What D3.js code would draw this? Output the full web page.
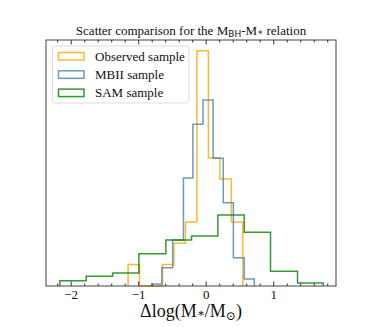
<!DOCTYPE html>
<html>
<head>
<meta charset="utf-8">
<script src="https://cdn.jsdelivr.net/npm/d3@7"></script>
<style>
  body { margin: 0; background: #fff; }
  text { font-family: "Liberation Serif", "DejaVu Serif", serif; fill: #111; }
</style>
</head>
<body>
<script>
// density histograms (bin edges + heights)
var obsEdges = [-1.15, -0.98, -0.81, -0.64, -0.47, -0.30, -0.13, 0.04, 0.21, 0.38, 0.55];
var obsVals  = [0.184, 0, 0, 0.184, 0.368, 0.551, 2.022, 1.103, 0.919, 0.551];

var mbiiEdges = [-0.80, -0.65, -0.49, -0.33, -0.19, -0.04, 0.11, 0.26, 0.41, 0.57, 0.72];
var mbiiVals  = [0.017, 0.157, 0.396, 0.929, 1.390, 1.599, 1.098, 0.716, 0.243, 0.060];

var samEdges = [-2.16, -1.77, -1.38, -0.99, -0.59, -0.21, 0.18, 0.57, 0.96, 1.36, 1.74];
var samVals  = [0.046, 0.083, 0.112, 0.278, 0.396, 0.430, 0.610, 0.462, 0.126, 0.026];

var seriesNames = ["Observed sample", "MBII sample", "SAM sample"];
var seriesColors = ["#ffa500", "#4682b4", "#008000"];

var majorTicks = [-2, -1, 0, 1];
var minorTicks = [-2.2, -1.8, -1.6, -1.4, -1.2, -0.8, -0.6, -0.4, -0.2, 0.2, 0.4, 0.6, 0.8, 1.2, 1.4, 1.6, 1.8];

var width = 374, height = 327;
var margin = {left: 46, right: 38, top: 40, bottom: 41};

var svg = d3.select("body").append("svg")
    .attr("width", width)
    .attr("height", height);

var x = d3.scaleLinear().domain([-2.366, 1.93]).range([margin.left, width - margin.right]);
var y = d3.scaleLinear().domain([0, 2.115]).range([height - margin.bottom, margin.top]);

// step outline like matplotlib histtype='step'
function stepPts(edges, vals) {
    var pts = [[edges[0], 0]];
    vals.forEach(function (v, i) {
        pts.push([edges[i], v]);
        pts.push([edges[i + 1], v]);
    });
    pts.push([edges[edges.length - 1], 0]);
    return pts;
}

var line = d3.line()
    .x(function (d) { return x(d[0]); })
    .y(function (d) { return y(d[1]); });

var hists = [[obsEdges, obsVals], [mbiiEdges, mbiiVals], [samEdges, samVals]];

svg.append("g").selectAll("path")
    .data(hists)
    .enter().append("path")
    .attr("d", function (d) { return line(stepPts(d[0], d[1])); })
    .attr("fill", "none")
    .attr("stroke", function (d, i) { return seriesColors[i]; })
    .attr("stroke-opacity", 0.8)
    .attr("stroke-width", 1.5);

// frame
svg.append("rect")
    .attr("x", x.range()[0])
    .attr("y", y.range()[1])
    .attr("width", x.range()[1] - x.range()[0])
    .attr("height", y.range()[0] - y.range()[1])
    .attr("fill", "none")
    .attr("stroke", "#444")
    .attr("stroke-width", 1);

// ticks inward, top and bottom
var bottomAxis = d3.axisBottom(x).tickValues(majorTicks).tickSizeInner(-4.5).tickSizeOuter(0)
    .tickFormat(function (d) { return d < 0 ? "\u2212" + Math.abs(d) : d; });
var gb = svg.append("g").attr("transform", "translate(0," + y.range()[0] + ")").call(bottomAxis);
gb.select(".domain").remove();
gb.selectAll("text").attr("dy", null).attr("y", 13).attr("font-size", 13)
    .attr("font-family", "Liberation Serif").attr("fill", "#111");
gb.selectAll("line").attr("stroke", "#333");

var gbm = svg.append("g").attr("transform", "translate(0," + y.range()[0] + ")")
    .call(d3.axisBottom(x).tickValues(minorTicks).tickSizeInner(-2.5).tickSizeOuter(0).tickFormat(""));
gbm.select(".domain").remove();
gbm.selectAll("line").attr("stroke", "#333");

var gt = svg.append("g").attr("transform", "translate(0," + y.range()[1] + ")")
    .call(d3.axisTop(x).tickValues(majorTicks).tickSizeInner(-4.5).tickSizeOuter(0).tickFormat(""));
gt.select(".domain").remove();
gt.selectAll("line").attr("stroke", "#333");
var gtm = svg.append("g").attr("transform", "translate(0," + y.range()[1] + ")")
    .call(d3.axisTop(x).tickValues(minorTicks).tickSizeInner(-2.5).tickSizeOuter(0).tickFormat(""));
gtm.select(".domain").remove();
gtm.selectAll("line").attr("stroke", "#333");

// title
var title = svg.append("text")
    .attr("x", (x.range()[0] + x.range()[1]) / 2)
    .attr("y", 35)
    .attr("text-anchor", "middle")
    .attr("font-size", 13);
title.append("tspan").text("Scatter comparison for the M");
title.append("tspan").text("BH").attr("font-size", 9).attr("dy", 2)
    .attr("font-family", "DejaVu Sans");
title.append("tspan").text("-M").attr("dy", -2);
title.append("tspan").text("\u2217").attr("font-size", 9);
title.append("tspan").text(" relation");

// x label
var xl = svg.append("text")
    .attr("x", (x.range()[0] + x.range()[1]) / 2)
    .attr("y", 317)
    .attr("text-anchor", "middle")
    .attr("font-size", 18);
xl.append("tspan").text("\u0394log(M");
xl.append("tspan").text("\u2217").attr("font-size", 12);
xl.append("tspan").text("/M");
xl.append("tspan").text("\u2299").attr("font-size", 12).attr("dy", 3);
xl.append("tspan").text(")").attr("dy", -3);

// legend
var lg = svg.append("g");
lg.append("rect")
    .attr("x", 52.5).attr("y", 46)
    .attr("width", 136.5).attr("height", 57)
    .attr("rx", 2.5)
    .attr("fill", "#fff").attr("fill-opacity", 0.8)
    .attr("stroke", "#ddd").attr("stroke-width", 1);

var rows = lg.selectAll("g.row")
    .data(seriesNames)
    .enter().append("g")
    .attr("class", "row")
    .attr("transform", function (d, i) { return "translate(0," + (i * 18.3) + ")"; });

rows.append("rect")
    .attr("x", 58.5).attr("y", 52.5)
    .attr("width", 25.5).attr("height", 7.5)
    .attr("fill", "none")
    .attr("stroke", function (d, i) { return seriesColors[i]; })
    .attr("stroke-opacity", 0.8)
    .attr("stroke-width", 1.5);

rows.append("text")
    .attr("x", 95).attr("y", 60.5)
    .attr("font-size", 13)
    .text(function (d) { return d; });
</script>
</body>
</html>
